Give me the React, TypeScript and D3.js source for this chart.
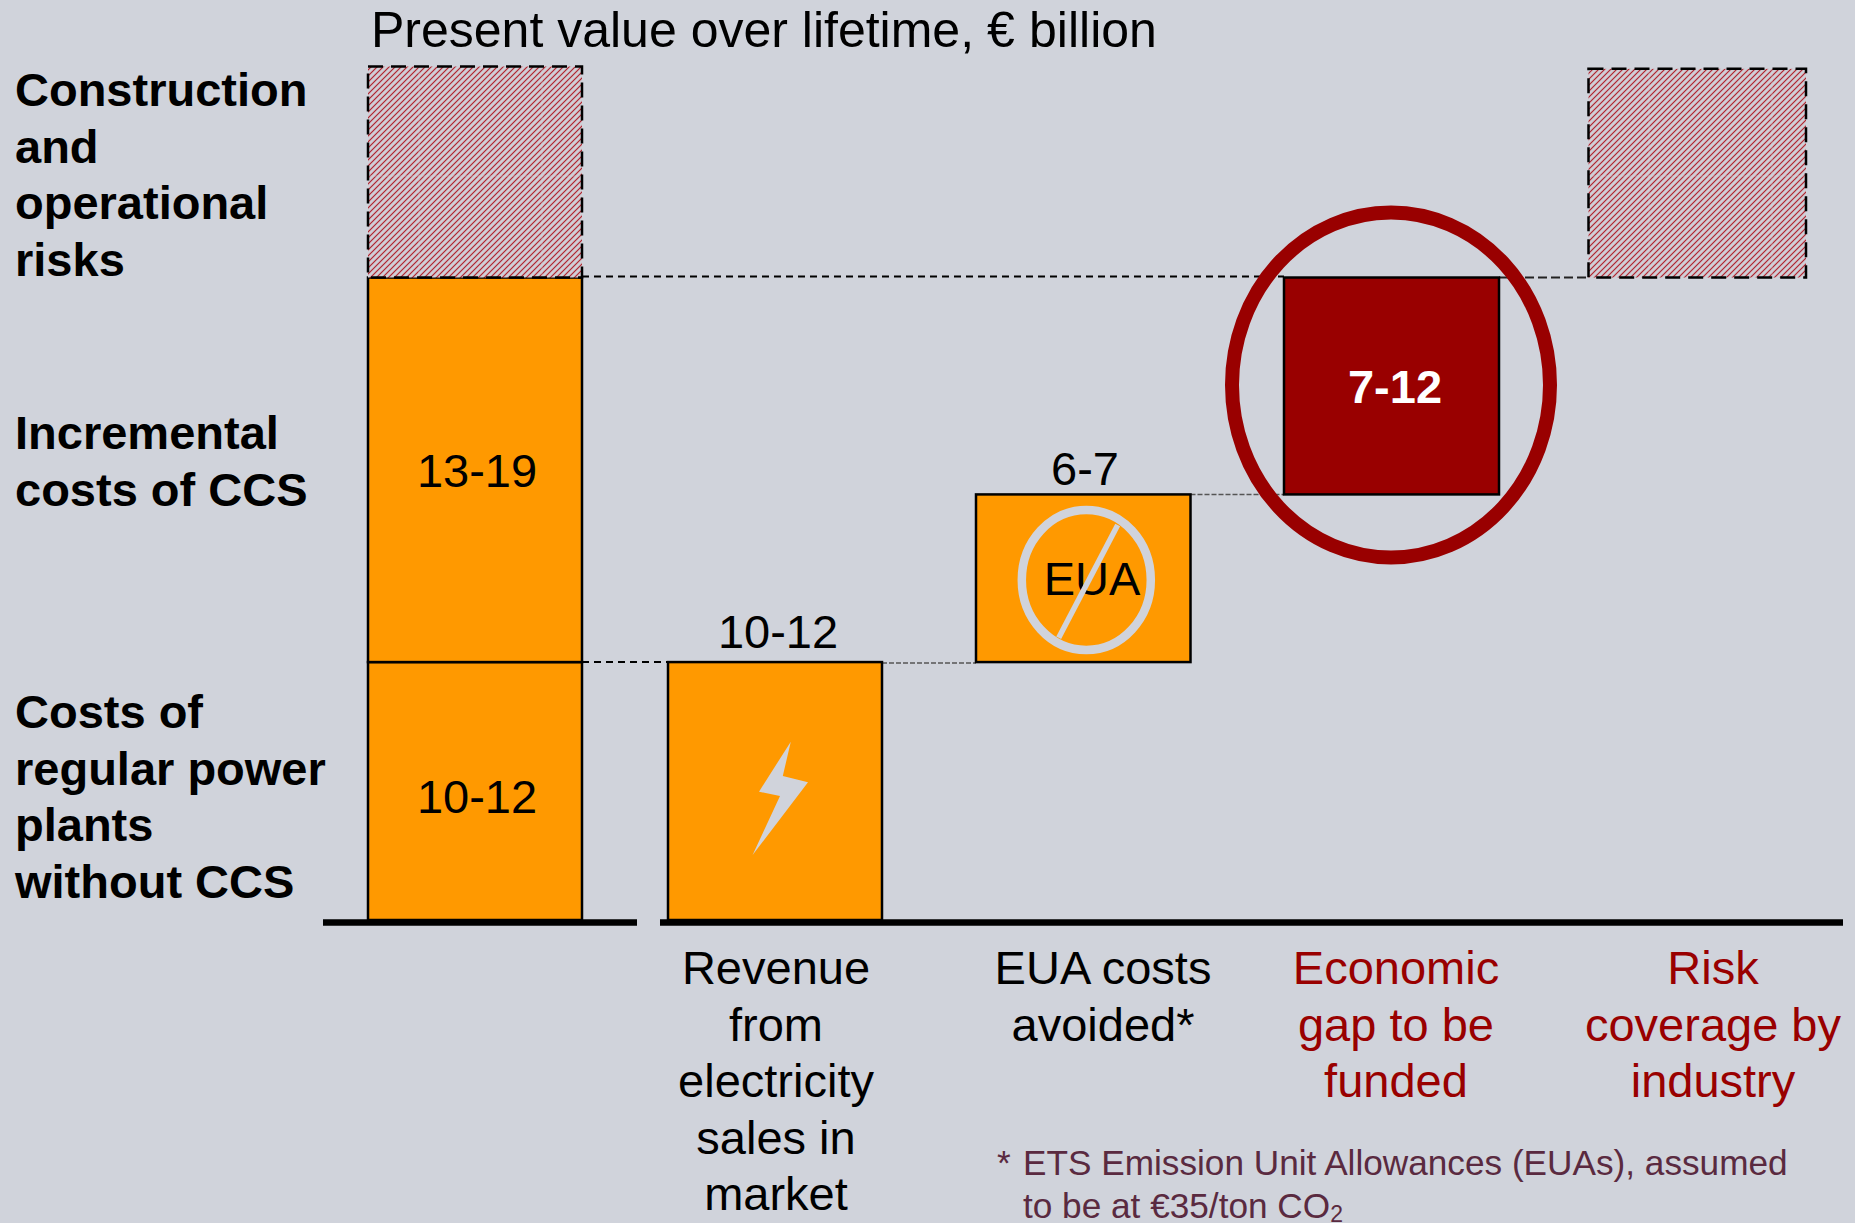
import React from "react";
import * as d3 from "d3";

// ---------- data ----------
const columns = ["total", "revenue", "eua", "gap", "risk"];
const segmentColumn = ["total", "total", "total", "revenue", "eua", "gap", "risk"];
const segmentFrom = [0, 11, 27.4, 0, 11, 18.15, 27.4];
const segmentTo = [11, 27.4, 36.4, 11, 18.15, 27.4, 36.3];
const segmentKind = ["solid", "solid", "hatch", "solid", "solid", "gap", "hatch"];

const valueLabels = ["13-19", "10-12", "10-12", "6-7", "7-12"];
const titleStart = "Present value over lifetime, ";
const titleUnit = "€";
const titleEnd = "billion";
const rowLabels = [
  ["Construction", "and", "operational", "risks"],
  ["Incremental", "costs of CCS"],
  ["Costs of", "regular power", "plants", "without CCS"],
];
const categoryLabels = [
  ["Revenue", "from", "electricity", "sales in", "market"],
  ["EUA costs", "avoided*"],
  ["Economic", "gap to be", "funded"],
  ["Risk", "coverage by", "industry"],
];

// ---------- scales and layout ----------
const W = 1855;
const H = 1223;
const BG = "#D0D3DB";
const ORANGE = "#FF9900";
const RED = "#990000";
const y = d3.scaleLinear().domain([0, 36.4]).range([920, 66.5]);
const left = d3.scaleOrdinal<string, number>().domain(columns).range([368, 668, 976, 1284, 1588.5]);
const barWidth = d3.scaleOrdinal<string, number>().domain(columns).range([214, 214, 214.5, 215, 217.5]);
const FONT = "'Liberation Sans', Arial, sans-serif";
const lightning = d3.line()([[790.8, 741.7], [759, 791.7], [780, 796], [752.6, 855], [808, 782.3], [782.8, 776]]) + "Z";
const stripes = "M-1.5,1.5 L1.5,-1.5 M-1.5,7.5 L7.5,-1.5 M4.5,7.5 L7.5,4.5";

function Lines({ lines, x, y0, dy, size, fill, weight, anchor }: any) {
  return (
    <text fontFamily={FONT} fontSize={size} fill={fill} fontWeight={weight} textAnchor={anchor}>
      {lines.map((l: string, i: number) => (
        <tspan key={i} x={x} y={y0 + i * dy}>{l}</tspan>
      ))}
    </text>
  );
}

export default function App() {
  const right = (c: string) => left(c) + barWidth(c);
  const level1 = y(11);
  const level2 = y(18.15);
  const level3 = y(27.4);
  return (
    <svg width={W} height={H} style={{ position: "absolute", left: 0, top: 0, background: BG }}>
      <defs>
        <pattern id="hatch" patternUnits="userSpaceOnUse" width={6} height={6}>
          <rect width={6} height={6} fill={BG} />
          <path d={stripes} stroke="#C98F97" strokeWidth={2.2} />
          <path d={stripes} stroke="#AB1F2B" strokeWidth={0.9} />
        </pattern>
      </defs>
      <rect width={W} height={H} fill={BG} />

      {/* connectors */}
      <g fill="none">
        <line x1={right("total")} x2={left("gap")} y1={level3 - 1} y2={level3 - 1} stroke="#000" strokeWidth={2} strokeDasharray="7 5" />
        <line x1={right("gap")} x2={left("risk")} y1={level3} y2={level3} stroke="#222" strokeWidth={2} strokeDasharray="9 4" />
        <line x1={right("total")} x2={790} y1={level1} y2={level1} stroke="#000" strokeWidth={2} strokeDasharray="7 5" />
        <line x1={right("revenue")} x2={left("eua")} y1={level1 + 1} y2={level1 + 1} stroke="#555" strokeWidth={1.5} strokeDasharray="5 2" />
        <line x1={right("eua")} x2={left("gap")} y1={level2} y2={level2} stroke="#555" strokeWidth={1.5} strokeDasharray="5 2" />
      </g>

      {/* bars */}
      {segmentColumn.map((c, i) => {
        const k = segmentKind[i];
        const top = y(segmentTo[i]);
        const h = y(segmentFrom[i]) - top;
        if (k === "hatch") {
          const seamXs = c === "total" ? [419, 542] : [1649, 1772];
          return (
            <g key={i}>
              <rect x={left(c)} y={top} width={barWidth(c)} height={h} fill="url(#hatch)" />
              {seamXs.map((sx) => (
                <line key={sx} x1={sx} x2={sx} y1={top} y2={top + h} stroke={BG} strokeOpacity={0.45} strokeWidth={1} />
              ))}
              <line x1={left(c)} x2={right(c)} y1={176} y2={176} stroke={BG} strokeOpacity={0.45} strokeWidth={1} />
              <rect x={left(c)} y={top} width={barWidth(c)} height={h} fill="none" stroke="#000" strokeWidth={2.5} strokeDasharray="15 8" />
            </g>
          );
        }
        return (
          <rect key={i} x={left(c)} y={top} width={barWidth(c)} height={h}
            fill={k === "gap" ? RED : ORANGE} stroke="#000" strokeWidth={2.5} />
        );
      })}

      {/* baseline */}
      <line x1={323} x2={637} y1={922.5} y2={922.5} stroke="#000" strokeWidth={6.5} />
      <line x1={660} x2={1843} y1={922.5} y2={922.5} stroke="#000" strokeWidth={6.5} />

      {/* glyphs */}
      <path d={lightning} fill={BG} />
      <text x={1092} y={595} fontFamily={FONT} fontSize={47} textAnchor="middle">EUA</text>
      <ellipse cx={1086.3} cy={580} rx={64.5} ry={70} fill="none" stroke={BG} strokeWidth={8.5} />
      <line x1={1117.7} y1={525} x2={1058.7} y2={637.7} stroke={BG} strokeWidth={5.5} />
      <ellipse cx={1391} cy={385} rx={159} ry={172.5} fill="none" stroke={RED} strokeWidth={14} />

      {/* value labels */}
      <g fontFamily={FONT} fontSize={47} textAnchor="middle">
        <text x={477} y={487}>{valueLabels[0]}</text>
        <text x={477} y={813}>{valueLabels[1]}</text>
        <text x={778} y={648}>{valueLabels[2]}</text>
        <text x={1085} y={485}>{valueLabels[3]}</text>
        <text x={1395} y={403} fill="#fff" fontWeight="bold">{valueLabels[4]}</text>
      </g>

      <g fontFamily={FONT} fontSize={50}>
        <text x={371} y={47}>{titleStart}</text>
        <text x={987} y={47}>{titleUnit}</text>
        <text x={1029} y={47}>{titleEnd}</text>
      </g>

      <Lines lines={rowLabels[0]} x={15} y0={106} dy={56.7} size={47} weight="bold" fill="#000" />
      <Lines lines={rowLabels[1]} x={15} y0={449} dy={56.7} size={47} weight="bold" fill="#000" />
      <Lines lines={rowLabels[2]} x={15} y0={728} dy={56.7} size={47} weight="bold" fill="#000" />

      <Lines lines={categoryLabels[0]} x={776} y0={984} dy={56.5} size={47} fill="#000" anchor="middle" />
      <Lines lines={categoryLabels[1]} x={1103} y0={984} dy={56.5} size={47} fill="#000" anchor="middle" />
      <Lines lines={categoryLabels[2]} x={1396} y0={984} dy={56.5} size={47} fill={RED} anchor="middle" />
      <Lines lines={categoryLabels[3]} x={1713} y0={984} dy={56.5} size={47} fill={RED} anchor="middle" />

      {/* footnote */}
      <g fontFamily={FONT} fontSize={35.2} fill="#5A2A40">
        <text x={997} y={1175}>*</text>
        <text x={1023} y={1175}>ETS Emission Unit Allowances (EUAs), assumed</text>
        <text x={1023} y={1218}>to be at €35/ton CO<tspan fontSize={23} dy={4}>2</tspan></text>
      </g>
    </svg>
  );
}
